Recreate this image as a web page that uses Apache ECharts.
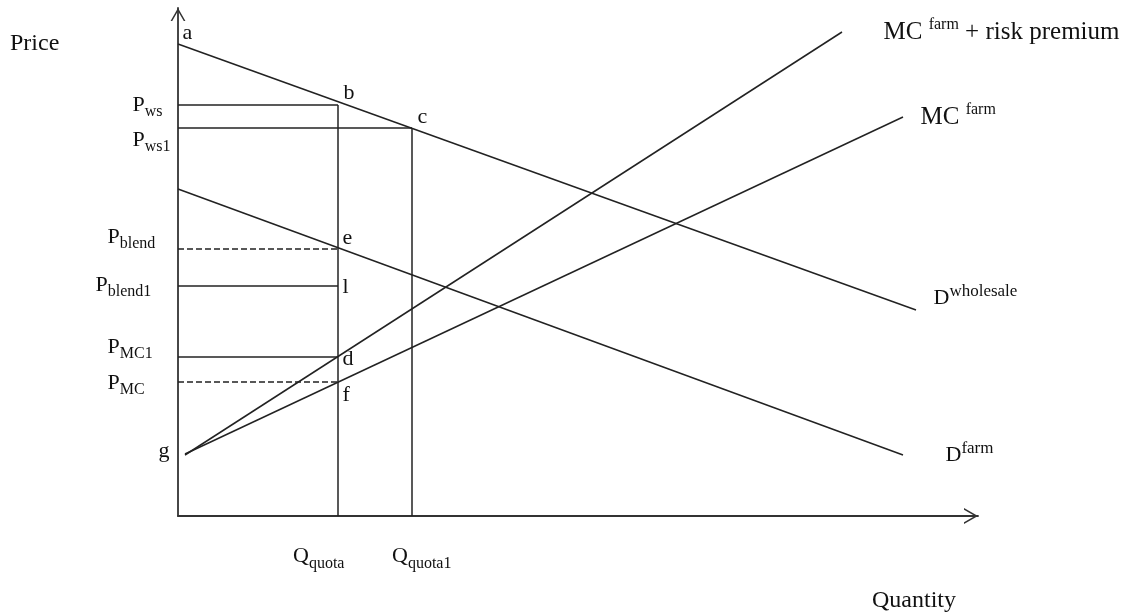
<!DOCTYPE html>
<html>
<head>
<meta charset="utf-8">
<script src="https://cdn.jsdelivr.net/npm/echarts@6/dist/echarts.min.js"></script>
<style>
html, body { margin: 0; padding: 0; background: #fff; }
#chart { width: 1136px; height: 615px; }
</style>
</head>
<body>
<div id="chart"></div>
<script>
// curve end points [quantity, price]
const dWholesale = [[0, 472], [738, 206]]
const dFarm = [[0, 327], [725, 61]]
const mcFarm = [[7, 62], [725, 399]]
const mcRisk = [[7, 61], [664, 484]]

// marked quantities and prices
const qQuota = 160
const qQuota1 = 234
const pWs = 411
const pWs1 = 388
const pBlend = 267
const pBlend1 = 230
const pMC1 = 159
const pMC = 134

const priceNames = ['{m|P}{s|ws}', '{m|P}{s|ws1}', '{m|P}{s|blend}', '{m|P}{s|blend1}', '{m|P}{s|MC1}', '{m|P}{s|MC}']
const priceValues = [pWs, pWs1, pBlend, pBlend1, pMC1, pMC]
const qtyNames = ['{m|Q}{s|quota}', '{m|Q}{s|quota1}']
const qtyValues = [qQuota, qQuota1]

const pointNames = ['a', 'b', 'c', 'e', 'l', 'd', 'f', 'g']
const pointQ = [0, qQuota, qQuota1, qQuota, qQuota, qQuota, qQuota, 0]
const pointP = [472, pWs, pWs1, pBlend, pBlend1, pMC1, pMC, 62]

const curveNames = ['{b|MC }{v|farm}{b| + risk premium}', '{b|MC }{v|farm}', '{m|D}{u|wholesale}', '{m|D}{u|farm}']
const curves = [mcRisk, mcFarm, dWholesale, dFarm]

// label placement (pixels), kept apart from the data
const priceOffsets = [[-45, 0], [-45, 12], [-70, -12], [-82, -1], [-70, -10], [-70, 1]]
const qtyOffsets = [[-45, 40], [-20, 40]]
const pointOffsets = [[4, -11], [5, -12], [5, -11], [4, -11], [4, 1], [4, 2], [4, 13], [-8, -3]]
const curveOffsets = [[41, 0], [17, 0], [17, -12], [42, 0]]

const ink = '#222'
const serif = 'Liberation Serif'
const chevron = 'path://M0,14L8,0L16,14L14.2,14L8,3.15L1.8,14Z'

const rich = {
    m: { fontFamily: serif, fontSize: 22, lineHeight: 30, verticalAlign: 'middle', color: '#111' },
    b: { fontFamily: serif, fontSize: 25, lineHeight: 30, verticalAlign: 'middle', color: '#111' },
    s: { fontFamily: serif, fontSize: 16, lineHeight: 16, verticalAlign: 'bottom', color: '#111' },
    u: { fontFamily: serif, fontSize: 17, lineHeight: 16, verticalAlign: 'top', color: '#111' },
    v: { fontFamily: serif, fontSize: 16, lineHeight: 16, verticalAlign: 'top', color: '#111' }
}

function segment(data, dashed) {
    return {
        type: 'line',
        data,
        symbol: 'none',
        silent: true,
        lineStyle: { color: ink, width: 1.5, type: dashed ? [6, 3] : 'solid' }
    }
}

function textSeries(items) {
    return {
        type: 'scatter',
        symbolSize: 1,
        silent: true,
        itemStyle: { color: 'rgba(0,0,0,0)', opacity: 1 },
        data: items,
        z: 5
    }
}

const series = [
    segment(dWholesale),
    segment(dFarm),
    segment(mcFarm),
    segment(mcRisk),
    segment([[0, pWs], [qQuota, pWs]]),
    segment([[0, pWs1], [qQuota1, pWs1]]),
    segment([[qQuota, pWs], [qQuota, 0]]),
    segment([[qQuota1, pWs1], [qQuota1, 0]]),
    segment([[0, pBlend], [qQuota, pBlend]], true),
    segment([[0, pBlend1], [qQuota, pBlend1]]),
    segment([[0, pMC1], [qQuota, pMC1]]),
    segment([[0, pMC], [qQuota, pMC]], true),
    textSeries(priceNames.map((name, i) => ({
        value: [0, priceValues[i]],
        label: {
            show: true, formatter: name, rich, position: 'left', distance: 0,
            align: 'left', verticalAlign: 'middle', offset: priceOffsets[i]
        }
    }))),
    textSeries(qtyNames.map((name, i) => ({
        value: [qtyValues[i], 0],
        label: {
            show: true, formatter: name, rich, position: 'bottom', distance: 0,
            align: 'left', verticalAlign: 'middle', offset: qtyOffsets[i]
        }
    }))),
    textSeries(pointNames.map((name, i) => ({
        value: [pointQ[i], pointP[i]],
        label: {
            show: true, formatter: '{m|' + name + '}', rich,
            position: name === 'g' ? 'left' : 'right', distance: 0,
            align: name === 'g' ? 'right' : 'left', verticalAlign: 'middle', offset: pointOffsets[i]
        }
    }))),
    textSeries(curveNames.map((name, i) => ({
        value: curves[i][1],
        label: {
            show: true, formatter: name, rich, position: 'right', distance: 0,
            align: 'left', verticalAlign: 'middle', offset: curveOffsets[i]
        }
    })))
]

const chart = echarts.init(document.getElementById('chart'))

chart.setOption({
    animation: false,
    backgroundColor: '#fff',
    grid: { left: 178, right: 158, top: 8, bottom: 99 },
    xAxis: {
        type: 'value', min: 0, max: 800,
        axisLine: {
            show: true, onZero: false,
            symbol: ['none', chevron], symbolSize: [16, 14], symbolOffset: [0, -7],
            lineStyle: { color: '#333', width: 1.8 }
        },
        axisTick: { show: false },
        axisLabel: { show: false },
        splitLine: { show: false }
    },
    yAxis: {
        type: 'value', min: 0, max: 508,
        axisLine: {
            show: true, onZero: false,
            symbol: ['none', chevron], symbolSize: [15, 13], symbolOffset: [0, -6.5],
            lineStyle: { color: '#333', width: 1.8 }
        },
        axisTick: { show: false },
        axisLabel: { show: false },
        splitLine: { show: false }
    },
    graphic: [
        { type: 'text', left: 10, top: 32, style: { text: 'Price', font: '24px "Liberation Serif"', fill: '#111' } },
        { type: 'text', left: 872, top: 589, style: { text: 'Quantity', font: '24px "Liberation Serif"', fill: '#111' } }
    ],
    series
})
</script>
</body>
</html>
